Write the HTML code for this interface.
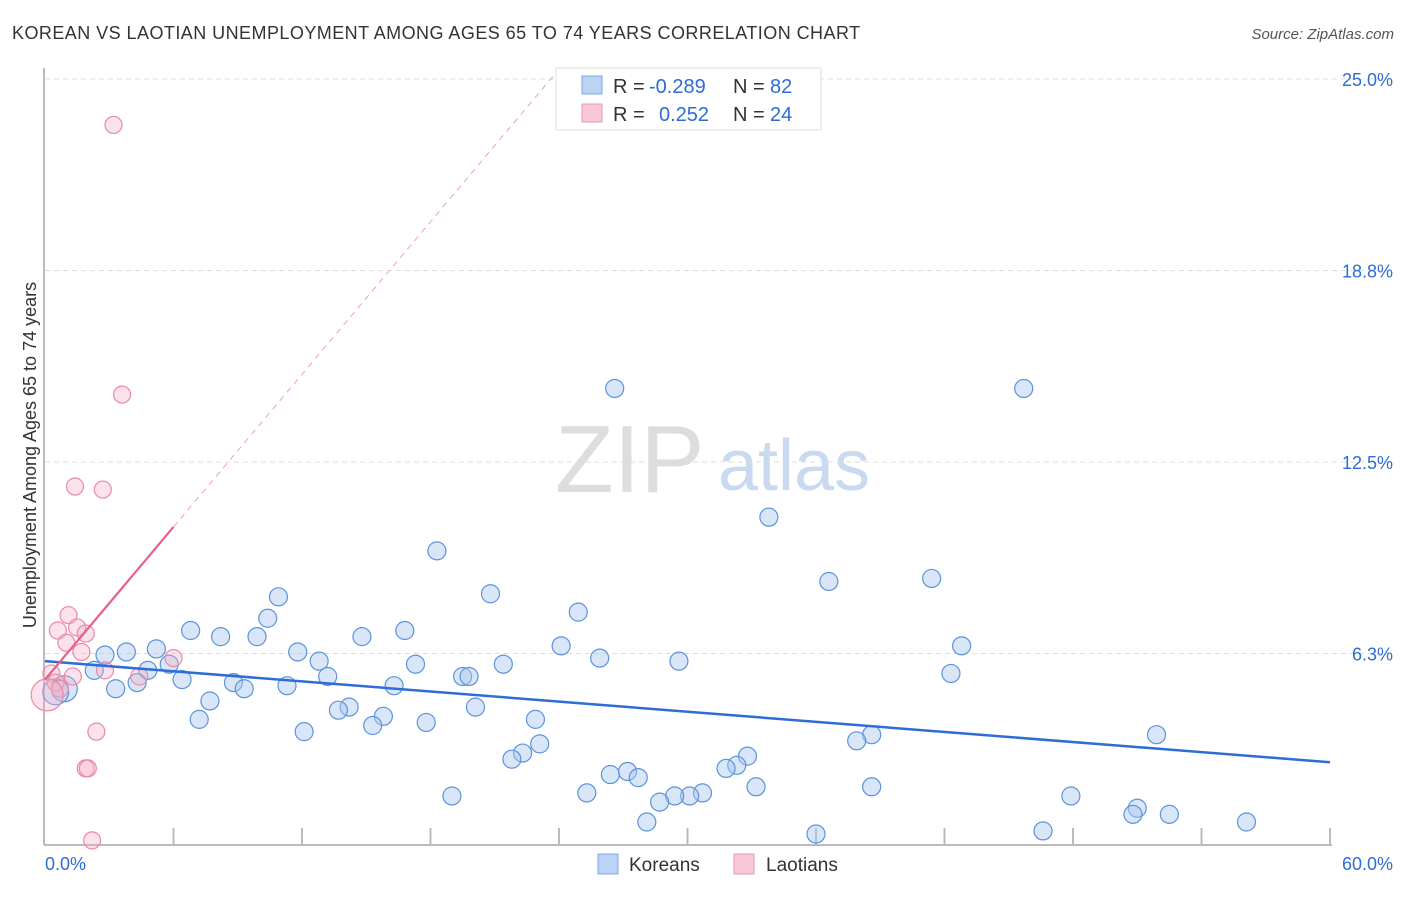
<!DOCTYPE html>
<html><head><meta charset="utf-8"><style>
body{margin:0;background:#fff;font-family:"Liberation Sans",sans-serif}
svg text{font-family:"Liberation Sans",sans-serif}
</style></head><body>
<svg id="c" width="1406" height="892">
<text x="12" y="39" font-size="18" fill="#333" letter-spacing="0.45">KOREAN VS LAOTIAN UNEMPLOYMENT AMONG AGES 65 TO 74 YEARS CORRELATION CHART</text>
<text x="1394" y="39" font-size="15" fill="#555" text-anchor="end" font-style="italic">Source: ZipAtlas.com</text>
<text x="36" y="455" font-size="18" fill="#333" text-anchor="middle" transform="rotate(-90 36 455)">Unemployment Among Ages 65 to 74 years</text>
<text x="555" y="492" font-size="96" fill="#ddd" font-family="Liberation Serif">ZIP</text>
<text x="718" y="490" font-size="72" fill="#c9d9f0">atlas</text>
<g id="grid"></g><g id="pts"></g><g id="trend"></g>
<g>
<rect x="556" y="68" width="265" height="62" fill="#fff" stroke="#ddd"/>
<rect x="582" y="76" width="20" height="18" fill="#bcd3f5" stroke="#7aa7e6"/>
<rect x="582" y="104" width="20" height="18" fill="#f8c8d6" stroke="#e99ab2"/>
<text x="613" y="93" font-size="20" fill="#333">R =</text>
<text x="649" y="93" font-size="20" fill="#2e6cd6">-0.289</text>
<text x="733" y="93" font-size="20" fill="#333">N =</text>
<text x="770" y="93" font-size="20" fill="#2e6cd6">82</text>
<text x="613" y="121" font-size="20" fill="#333">R =</text>
<text x="659" y="121" font-size="20" fill="#2e6cd6">0.252</text>
<text x="733" y="121" font-size="20" fill="#333">N =</text>
<text x="770" y="121" font-size="20" fill="#2e6cd6">24</text>
</g>
<g>
<rect x="598" y="854" width="20" height="20" fill="#bcd3f5" stroke="#7aa7e6"/>
<text x="629" y="871" font-size="19" fill="#333">Koreans</text>
<rect x="734" y="854" width="20" height="20" fill="#f8c8d6" stroke="#e99ab2"/>
<text x="766" y="871" font-size="19" fill="#333">Laotians</text>
</g>
</svg>
<script>
const yTicks=[6.25,12.5,18.75,25];
const yTickLabels=["6.3%","12.5%","18.8%","25.0%"];
const korX=[26.6,45.7,33.8,18.3,36.6,41.4,20.8,10.9,24.9,10.4,6.8,16.8,8.2,9.9,14.8,24.1,42.8,5.2,3.8,2.8,11.8,25.9,29.6,5.8,12.8,17.3,21.4,4.8,2.3,42.3,13.2,19.5,19.8,6.4,4.3,8.8,11.3,16.3,3.3,9.3,0.9,0.5,7.7,14.2,13.7,20.1,7.2,15.8,15.3,17.8,22.9,12.1,51.9,38.6,37.9,23.1,22.3,21.8,32.8,32.3,31.8,27.2,26.4,27.7,33.2,38.6,25.3,19.0,30.7,30.1,29.4,28.7,47.9,51.0,50.8,52.5,28.1,56.1,46.6,36.0];
const korY=[14.9,14.9,10.7,9.6,8.6,8.7,8.2,8.1,7.6,7.4,7.0,7.0,6.8,6.8,6.8,6.5,6.5,6.4,6.3,6.2,6.3,6.1,6.0,5.9,6.0,5.9,5.9,5.7,5.7,5.6,5.5,5.5,5.5,5.4,5.3,5.3,5.2,5.2,5.1,5.1,5.1,5.0,4.7,4.5,4.4,4.5,4.1,4.2,3.9,4.0,4.1,3.7,3.6,3.6,3.4,3.3,3.0,2.8,2.9,2.6,2.5,2.4,2.3,2.2,1.9,1.9,1.7,1.6,1.7,1.6,1.6,1.4,1.6,1.2,1.0,1.0,0.75,0.75,0.46,0.36];
const laoX=[3.2,3.6,1.4,2.7,1.1,0.6,1.5,1.9,1.0,1.7,6.0,2.8,0.3,1.3,0.5,0.7,0.1,2.4,1.9,2.0,2.2,4.4];
const laoY=[23.5,14.7,11.7,11.6,7.5,7.0,7.1,6.9,6.6,6.3,6.1,5.7,5.6,5.5,5.3,5.1,4.9,3.7,2.5,2.5,0.15,5.5];
const korTrend=[6.0,2.7];
const laoTrend=[5.4,0.83];
const NS="http://www.w3.org/2000/svg";
const X=v=>45+v/60*1285, Y=v=>845-v/6.25*191.5;
function mk(t,a,p){const e=document.createElementNS(NS,t);for(const k in a)e.setAttribute(k,a[k]);document.getElementById(p).appendChild(e);return e;}
yTicks.forEach((t,i)=>{
 const l=mk('line',{x1:45,x2:1395,y1:Y(t),y2:Y(t),stroke:'#ddd','stroke-dasharray':'5,4'},'grid');
 
 
 const tx=mk('text',{x:1393,y:Y(t)+7,'font-size':18,fill:'#2e6cd6','text-anchor':'end'},'grid');tx.textContent=yTickLabels[i];
 
 
});
const ax=mk('line',{x1:44,x2:44,y1:68,y2:845,stroke:'#bbb','stroke-width':2},'grid');


const bx=mk('line',{x1:44,x2:1332,y1:845,y2:845,stroke:'#bbb','stroke-width':2},'grid');


for(let i=1;i<=10;i++){const tk=mk('line',{x1:X(i*6),x2:X(i*6),y1:828,y2:845,stroke:'#bbb','stroke-width':2},'grid');
 
 }
[["0.0%",45,'start'],["60.0%",1393,'end']].forEach(d=>{const t=mk('text',{x:d[1],y:870,'font-size':18,fill:'#2e6cd6','text-anchor':d[2]},'grid');t.textContent=d[0];
 
 });
korX.forEach((v,i)=>{const c=mk('circle',{cx:X(v),cy:Y(korY[i]),r:i>=40&&i<=41?13:9,fill:'rgba(170,200,240,0.45)',stroke:'#5b93dd','stroke-width':1.2},'pts');
 
 });
laoX.forEach((v,i)=>{const c=mk('circle',{cx:X(v),cy:Y(laoY[i]),r:i==16?16:8.5,fill:'rgba(245,175,198,0.35)',stroke:'#e88aa8','stroke-width':1.2},'pts');
 
 });
const kt=mk('line',{x1:X(0),y1:Y(korTrend[0]),x2:X(60),y2:Y(korTrend[1]),stroke:'#2e6cd6','stroke-width':2.5},'trend');


const lt=mk('line',{x1:X(0),y1:Y(laoTrend[0]),x2:X(6),y2:Y(laoTrend[0]+6*laoTrend[1]),stroke:'#e8608a','stroke-width':2.2},'trend');


const ld=mk('line',{x1:X(6),y1:Y(laoTrend[0]+6*laoTrend[1]),x2:X(23.8),y2:Y(laoTrend[0]+23.8*laoTrend[1]),stroke:'#f0a0b8','stroke-width':1,'stroke-dasharray':'6,5'},'trend');


</script>
</body></html>
